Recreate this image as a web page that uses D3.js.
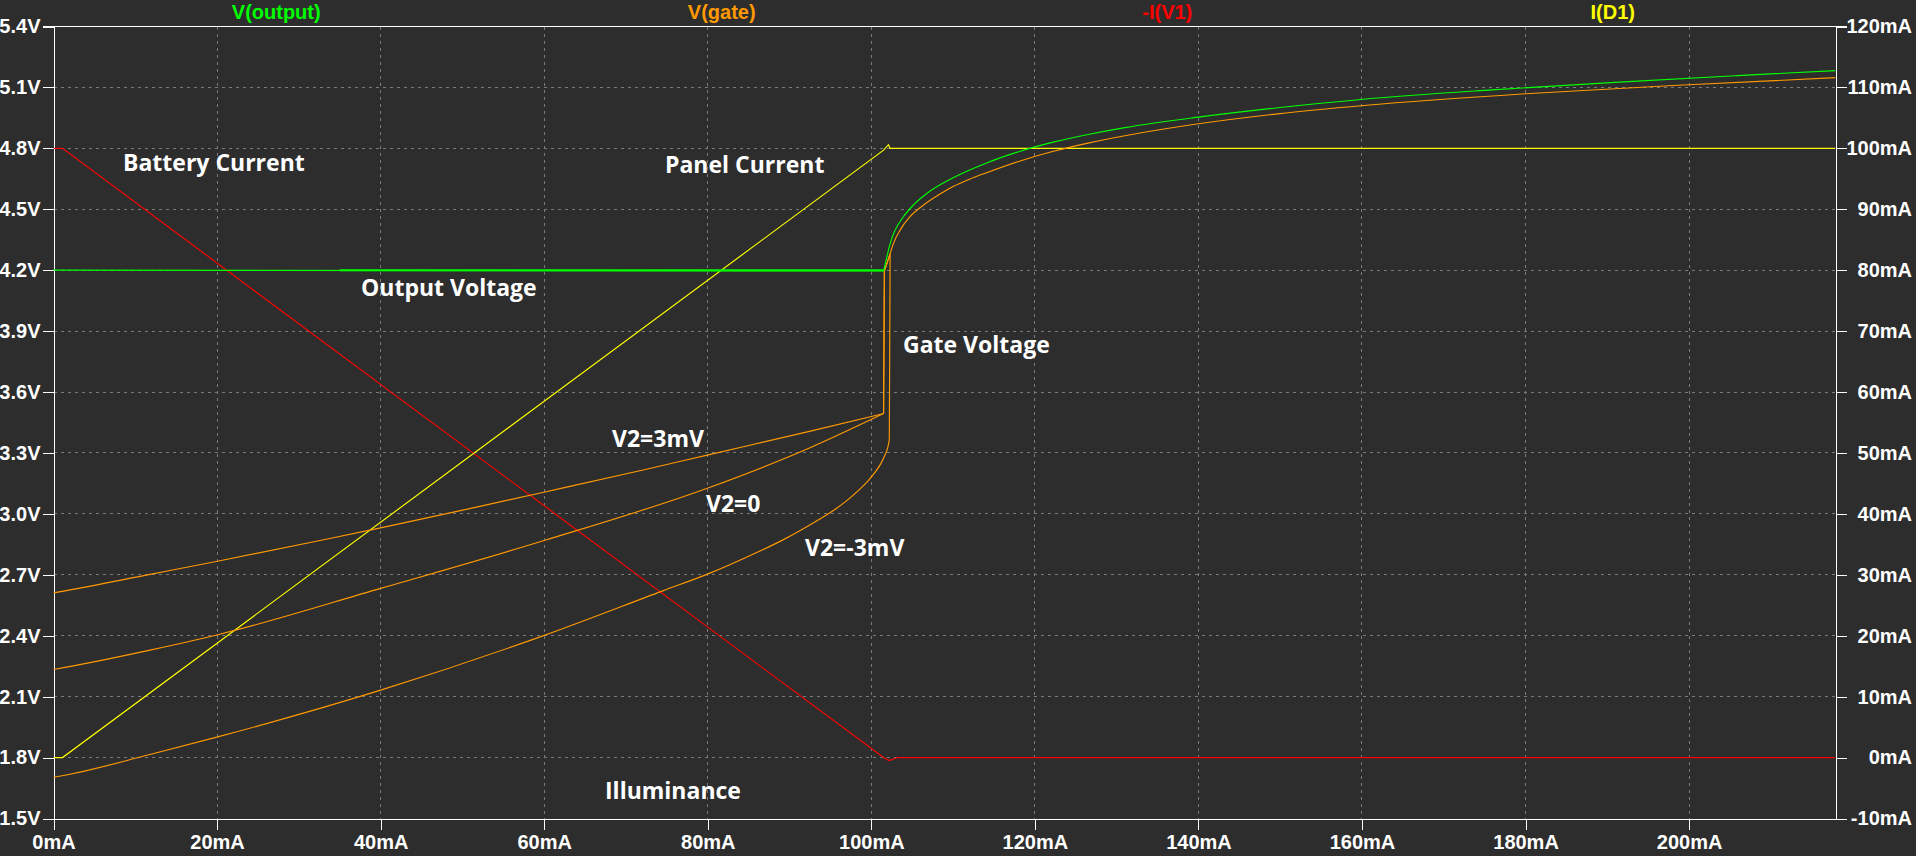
<!DOCTYPE html>
<html>
<head>
<meta charset="utf-8">
<script src="https://cdn.jsdelivr.net/npm/d3@7"></script>
<style>
body { margin: 0; background: #2d2d2d; }
svg { display: block; }
.tick_label { font-family: "Liberation Sans", Arial, sans-serif; font-weight: bold; font-size: 20px; fill: #ffffff; }
.trace_name { font-family: "Liberation Sans", Arial, sans-serif; font-weight: bold; font-size: 20px; }
.note { font-family: "Open Sans", sans-serif; font-weight: 700; font-size: 23px; fill: #ffffff; }
</style>
</head>
<body>
<svg id="chart" width="1916" height="856"></svg>
<script>
// ticks
var xTicks = [0, 20, 40, 60, 80, 100, 120, 140, 160, 180, 200];
var voltTicks = [1.5, 1.8, 2.1, 2.4, 2.7, 3.0, 3.3, 3.6, 3.9, 4.2, 4.5, 4.8, 5.1, 5.4];
var currentTicks = [-10, 0, 10, 20, 30, 40, 50, 60, 70, 80, 90, 100, 110, 120];

var traceNames = ["V(output)", "V(gate)", "-I(V1)", "I(D1)"];
var traceColors = ["#00ff00", "#ff9900", "#ff0000", "#ffff00"];

// V(output), volts  [mA, V]
var outputFlat = [[0, 4.2], [101.5, 4.196]];
var outputFlat2 = [[35, 4.2], [101.5, 4.2]];
var outputRise = [[101.5, 4.196], [101.9, 4.265], [102.3, 4.331], [102.9, 4.396], [103.9, 4.462],
    [105.1, 4.519], [107.2, 4.59], [110, 4.655], [114.1, 4.728], [118.4, 4.788], [122.5, 4.833],
    [126.5, 4.868], [131, 4.902], [140, 4.954], [149.7, 5.0], [160.2, 5.042], [175.9, 5.088],
    [190.9, 5.125], [205.9, 5.158], [217.9, 5.183]];

// V(gate), one run per V2 step, then the jump
var gate3mV = [[0, 2.611], [1.4, 2.621], [11.8, 2.702], [20.2, 2.768], [33.2, 2.874], [40, 2.931],
    [52, 3.036], [60.1, 3.108], [72.1, 3.216], [80.2, 3.292], [92.3, 3.405], [101.5, 3.494]];
var gate0 = [[0, 2.234], [1.4, 2.244], [11.8, 2.329], [20.2, 2.406], [40, 2.633], [60.1, 2.870],
    [80.2, 3.130], [92.3, 3.322], [101.5, 3.494]];
var gateNeg3mV = [[0, 1.703], [1.4, 1.713], [11.8, 1.815], [20.2, 1.903], [40, 2.132], [60.1, 2.403],
    [74.5, 2.621], [80.2, 2.707], [85.2, 2.795], [89.2, 2.872], [93.3, 2.965], [95.5, 3.02],
    [97.3, 3.075], [98.5, 3.118], [99.6, 3.163], [100.5, 3.207], [101.2, 3.25], [101.7, 3.292],
    [102.0, 3.325], [102.2, 3.363]];
var gateJump3mV = [[101.5, 3.494], [101.6, 4.196], [102.3, 4.281]];
var gateJump0 = [[101.5, 3.494], [101.6, 4.196], [102.3, 4.281]];
var gateJumpNeg3mV = [[102.2, 3.363], [102.3, 4.281]];
var gateHigh = [[102.3, 4.281], [102.7, 4.331], [103.5, 4.396], [104.7, 4.462], [106.2, 4.515],
    [108.4, 4.575], [110, 4.612], [112, 4.648], [114.1, 4.68], [118.2, 4.738], [122.5, 4.788],
    [126.5, 4.826], [131, 4.862], [140, 4.921], [149.7, 4.97], [160.2, 5.011], [180, 5.069],
    [199.9, 5.113], [217.9, 5.148]];

// currents, mA
var batteryCurrent = [[0, 100], [1.1, 100], [101.5, 0], [102.2, -0.5], [103.2, 0], [217.9, 0]];
var panelCurrent = [[0, 0], [1.1, 0], [101.5, 99.7], [102.1, 100.6], [102.3, 100], [217.9, 100]];

var notes = [
    ["Battery Current", 123, 171],
    ["Panel Current", 665, 173],
    ["Output Voltage", 361, 296],
    ["Gate Voltage", 903, 353],
    ["V2=3mV", 612, 447],
    ["V2=0", 706, 512],
    ["V2=-3mV", 805, 556],
    ["Illuminance", 605, 799]
];

var svg = d3.select("#chart");
var plotLeft = 53.5, plotRight = 1835.5, plotTop = 26.5, plotBottom = 818.5;

var x = d3.scaleLinear().domain([0, 217.9]).range([plotLeft, plotRight]);
var yVolt = d3.scaleLinear().domain([1.5, 5.4]).range([plotBottom, plotTop]);
var yCurrent = d3.scaleLinear().domain([-10, 120]).range([plotBottom, plotTop]);

svg.append("rect")
    .attr("width", 1916)
    .attr("height", 856)
    .attr("fill", "#2d2d2d");

svg.append("clipPath")
    .attr("id", "plot_clip")
  .append("rect")
    .attr("x", plotLeft)
    .attr("y", plotTop)
    .attr("width", plotRight - plotLeft)
    .attr("height", plotBottom - plotTop);

// grid
var grid = svg.append("g")
    .attr("stroke", "#7a7a7a")
    .attr("stroke-width", 1)
    .attr("stroke-dasharray", "3,4")
    .attr("shape-rendering", "crispEdges");
grid.selectAll(".vgrid")
    .data(xTicks.filter(function(d) { return d > 0; }))
    .enter()
    .append("line")
      .attr("x1", function(d) { return x(d); })
      .attr("x2", function(d) { return x(d); })
      .attr("y1", plotTop)
      .attr("y2", plotBottom);
grid.selectAll(".hgrid")
    .data(voltTicks.slice(1, -1))
    .enter()
    .append("line")
      .attr("x1", plotLeft)
      .attr("x2", plotRight)
      .attr("y1", function(d) { return yVolt(d); })
      .attr("y2", function(d) { return yVolt(d); });

// axes
function styleAxis(g) {
    g.select(".domain").attr("stroke", "#ffffff");
    g.selectAll(".tick line").attr("stroke", "#ffffff");
    g.selectAll(".tick text").attr("class", "tick_label").attr("fill", null);
    g.attr("font-family", null).attr("font-size", null);
    g.attr("shape-rendering", "crispEdges");
}

svg.append("g")
    .attr("transform", "translate(" + plotLeft + ",0)")
    .call(d3.axisLeft(yVolt).tickValues(voltTicks).tickSize(11).tickSizeOuter(0).tickPadding(2)
        .tickFormat(function(d) { return d.toFixed(1) + "V"; }))
    .call(styleAxis);

var rightAxis = svg.append("g")
    .attr("transform", "translate(" + plotRight + ",0)")
    .call(d3.axisRight(yCurrent).tickValues(currentTicks).tickSize(11).tickSizeOuter(0)
        .tickFormat(function(d) { return d + "mA"; }))
    .call(styleAxis);
rightAxis.selectAll(".tick text")
    .attr("x", 76.5)
    .attr("text-anchor", "end");

svg.append("g")
    .attr("transform", "translate(0," + plotBottom + ")")
    .call(d3.axisBottom(x).tickValues(xTicks).tickSize(11).tickSizeOuter(0).tickPadding(5)
        .tickFormat(function(d) { return d + "mA"; }))
    .call(styleAxis);

svg.append("line")
    .attr("x1", plotLeft - 11)
    .attr("x2", plotRight + 11)
    .attr("y1", plotTop)
    .attr("y2", plotTop)
    .attr("stroke", "#ffffff")
    .attr("shape-rendering", "crispEdges");

// traces
var smoothVolt = d3.line()
    .x(function(d) { return x(d[0]); })
    .y(function(d) { return yVolt(d[1]); })
    .curve(d3.curveMonotoneX);
var straightVolt = d3.line()
    .x(function(d) { return x(d[0]); })
    .y(function(d) { return yVolt(d[1]); });
var straightCurrent = d3.line()
    .x(function(d) { return x(d[0]); })
    .y(function(d) { return yCurrent(d[1]); });

var traces = svg.append("g")
    .attr("clip-path", "url(#plot_clip)")
    .attr("fill", "none")
    .attr("stroke-width", 1.15);

traces.append("path").attr("d", straightCurrent(batteryCurrent)).attr("stroke", traceColors[2]);
traces.append("path").attr("d", straightCurrent(panelCurrent)).attr("stroke", traceColors[3]);
[gate3mV, gate0, gateNeg3mV, gateHigh].forEach(function(run) {
    traces.append("path").attr("d", smoothVolt(run)).attr("stroke", traceColors[1]);
});
[gateJump3mV, gateJump0, gateJumpNeg3mV].forEach(function(run) {
    traces.append("path").attr("d", straightVolt(run)).attr("stroke", traceColors[1]);
});
traces.append("path").attr("d", straightVolt(outputFlat)).attr("stroke", traceColors[0]);
traces.append("path").attr("d", straightVolt(outputFlat2)).attr("stroke", traceColors[0])
    .attr("stroke-width", 2);
traces.append("path").attr("d", smoothVolt(outputRise)).attr("stroke", traceColors[0]);

// trace names across the top
svg.selectAll(".trace_name")
    .data(traceNames)
    .enter()
    .append("text")
      .attr("class", "trace_name")
      .attr("x", function(d, i) { return plotLeft + (plotRight - plotLeft) * (i + 0.5) / traceNames.length; })
      .attr("y", 19)
      .attr("text-anchor", "middle")
      .attr("fill", function(d, i) { return traceColors[i]; })
      .text(function(d) { return d; });

// annotations
svg.selectAll(".note")
    .data(notes)
    .enter()
    .append("text")
      .attr("class", "note")
      .attr("x", function(d) { return d[1]; })
      .attr("y", function(d) { return d[2]; })
      .text(function(d) { return d[0]; });
</script>
</body>
</html>
